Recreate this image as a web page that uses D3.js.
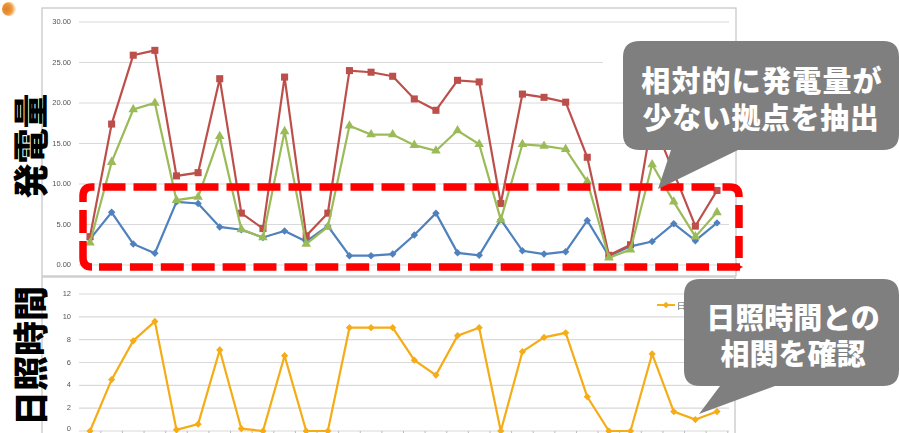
<!DOCTYPE html>
<html lang="ja">
<head>
<meta charset="UTF-8">
<title>発電量と日照時間</title>
<style>
  html, body { margin: 0; padding: 0; background: #fff; overflow: hidden; }
  svg { display: block; }
  text { font-family: "Noto Sans CJK JP", "Noto Sans", sans-serif; }
  .tick-label { font-family: "Liberation Sans", sans-serif; font-size: 7.5px; fill: #555; }
  .grid { stroke: #d9d9d9; stroke-width: 1.2px; }
  .frame { fill: #fff; stroke: #c8c8c8; stroke-width: 1.3px; }
  .callout { fill: #7f7f7f; }
  .callout-text { fill: #fff; font-weight: 900; font-size: 29px; text-anchor: middle; }
  .side-title { fill: #000; font-weight: 900; font-size: 35px; text-anchor: middle; }
  .box { fill: none; stroke: #ff0000; stroke-width: 7.5px; }
</style>
</head>
<body>
<svg width="899" height="433"></svg>
<script src="https://d3js.org/d3.v7.min.js"></script>
<script>
const days = d3.range(1, 31);
const blueValues = [3.2, 6.5, 2.6, 1.45, 7.8, 7.6, 4.7, 4.35, 3.4, 4.2, 2.9, 4.8, 1.15, 1.15, 1.35, 3.7, 6.4, 1.5, 1.2, 5.6, 1.75, 1.35, 1.65, 5.5, 1.1, 2.3, 2.9, 5.1, 3.0, 5.2];
const redValues = [3.5, 17.4, 25.9, 26.5, 11.0, 11.4, 23.0, 6.4, 4.5, 23.2, 3.6, 6.4, 24.0, 23.8, 23.3, 20.5, 19.1, 22.8, 22.6, 7.6, 21.1, 20.7, 20.1, 13.3, 1.2, 2.5, 18.0, 11.4, 4.8, 9.2];
const greenValues = [2.75, 12.7, 19.2, 20.0, 8.0, 8.4, 15.9, 4.4, 3.4, 16.5, 2.6, 4.7, 17.2, 16.1, 16.1, 14.8, 14.1, 16.6, 14.9, 5.6, 14.9, 14.7, 14.3, 10.3, 0.9, 1.9, 12.4, 7.8, 3.5, 6.5];
const sunValues = [0, 4.5, 7.9, 9.6, 0.1, 0.6, 7.1, 0.2, 0, 6.6, 0, 0, 9.05, 9.05, 9.05, 6.2, 4.9, 8.35, 9.05, 0, 6.95, 8.2, 8.6, 3.0, 0, 0, 6.75, 1.7, 1.0, 1.7];
const powerTicks = [0, 5, 10, 15, 20, 25, 30];
const sunTicks = [0, 2, 4, 6, 8, 10, 12];

const svg = d3.select("svg");
const x = d3.scalePoint().domain(days).range([90, 717]);
const yPower = d3.scaleLinear().domain([0, 30]).range([265, 22]);
const ySun = d3.scaleLinear().domain([0, 12]).range([431, 294]);
const step = x.step();

const defs = svg.append("defs");
// the source chart is a soft, upscaled screenshot
defs.append("filter").attr("id", "soft").append("feGaussianBlur").attr("stdDeviation", 0.45);
const grad = defs.append("radialGradient").attr("id", "bullet").attr("cx", "30%").attr("cy", "50%").attr("r", "75%");
grad.append("stop").attr("offset", "0%").attr("stop-color", "#e07f22");
grad.append("stop").attr("offset", "55%").attr("stop-color", "#ee9a3f");
grad.append("stop").attr("offset", "85%").attr("stop-color", "#fbe3c4");
grad.append("stop").attr("offset", "100%").attr("stop-color", "#fff");

const chart = svg.append("g").attr("filter", "url(#soft)");

// chart frames
chart.append("rect").attr("class", "frame").attr("x", 42).attr("y", 8).attr("width", 694).attr("height", 268);
chart.append("rect").attr("class", "frame").attr("x", 42).attr("y", 277).attr("width", 693).attr("height", 170);

function drawAxis(scale, ticks, fmt, gridEnd) {
  const g = chart.append("g");
  g.selectAll("line").data(ticks).enter().append("line")
    .attr("class", "grid")
    .attr("x1", 79).attr("x2", gridEnd)
    .attr("y1", d => scale(d)).attr("y2", d => scale(d));
  g.selectAll("text").data(ticks).enter().append("text")
    .attr("class", "tick-label")
    .attr("x", 71).attr("y", d => Math.min(scale(d) + 2, 431.3))
    .attr("text-anchor", "end")
    .text(fmt);
}
// the 25 line stops short where a legend was removed
drawAxis(yPower, powerTicks, d3.format(".2f"), d => d === 25 ? 603 : 729);
drawAxis(ySun, sunTicks, d => d, () => 729);

// small category ticks under the lower chart
chart.append("g").selectAll("line").data(days).enter().append("line")
  .attr("x1", d => x(d) + step / 2).attr("x2", d => x(d) + step / 2)
  .attr("y1", 431).attr("y2", 433)
  .attr("stroke", "#bbb").attr("stroke-width", 1);

function drawSeries(values, scale, color, symbol, size, rotate) {
  const line = d3.line().x((d, i) => x(days[i])).y(d => scale(d));
  chart.append("path").datum(values)
    .attr("fill", "none").attr("stroke", color).attr("stroke-width", 2.2)
    .attr("d", line);
  chart.append("g").selectAll("path").data(values).enter().append("path")
    .attr("d", d3.symbol().type(symbol).size(size))
    .attr("fill", color)
    .attr("transform", (d, i) => `translate(${x(days[i])},${scale(d)}) rotate(${rotate})`);
}
drawSeries(blueValues, yPower, "#4f81bd", d3.symbolSquare, 28, 45);
drawSeries(redValues, yPower, "#bd4f4c", d3.symbolSquare, 50, 0);
drawSeries(greenValues, yPower, "#9bbb59", d3.symbolTriangle, 40, 0);
drawSeries(sunValues, ySun, "#f5ac14", d3.symbolSquare, 26, 45);

// legend stub behind the lower callout
chart.append("line").attr("x1", 657).attr("x2", 675).attr("y1", 305).attr("y2", 305)
  .attr("stroke", "#f5ac14").attr("stroke-width", 1.9);
chart.append("path").attr("d", d3.symbol().type(d3.symbolSquare).size(20)).attr("fill", "#f5ac14")
  .attr("transform", "translate(666,305) rotate(45)");
chart.append("text").attr("class", "tick-label").attr("x", 677).attr("y", 309).style("font-size", "9px").text("日");

// dashed selection box, in pieces so the dashes land where the original's do
svg.append("path").attr("class", "box").attr("stroke-dasharray", "23 8")
  .attr("d", "M83,233V196Q83,187 92,187H730Q739,187 739,196V258");
svg.append("path").attr("class", "box").attr("stroke-dasharray", "23 7.9")
  .attr("d", "M740,267H92");
svg.append("path").attr("class", "box").attr("d", "M92,267Q83,267 83,258V241");
svg.append("path").attr("fill", "#ff0000").attr("d", "M736,263.2L743,267L736,270.8Z");

// callouts
svg.append("path").attr("class", "callout")
  .attr("d", "M640,41H883Q899,41 899,57V134Q899,150 883,150H738L658,189L671,150H640Q623,150 623,134V57Q623,41 640,41Z");
svg.append("path").attr("class", "callout")
  .attr("d", "M700,279H883Q899,279 899,295V370Q899,386 883,386H775L699,414L720,386H700Q684,386 684,370V295Q684,279 700,279Z");

svg.append("text").attr("class", "callout-text").attr("x", 762).attr("y", 92).style("letter-spacing", "1.2px").text("相対的に発電量が");
svg.append("text").attr("class", "callout-text").attr("x", 761).attr("y", 129).style("letter-spacing", "0.6px").text("少ない拠点を抽出");
svg.append("text").attr("class", "callout-text").attr("x", 793).attr("y", 329).text("日照時間との");
svg.append("text").attr("class", "callout-text").attr("x", 793).attr("y", 365).text("相関を確認");

// vertical titles
svg.append("text").attr("class", "side-title").attr("transform", "translate(44,146) rotate(-90)").text("発電量");
svg.append("text").attr("class", "side-title").attr("transform", "translate(44,356) rotate(-90)").text("日照時間");

// small bullet icon top left
svg.append("circle").attr("cx", 9).attr("cy", 9).attr("r", 7).attr("fill", "url(#bullet)");
</script>
</body>
</html>
